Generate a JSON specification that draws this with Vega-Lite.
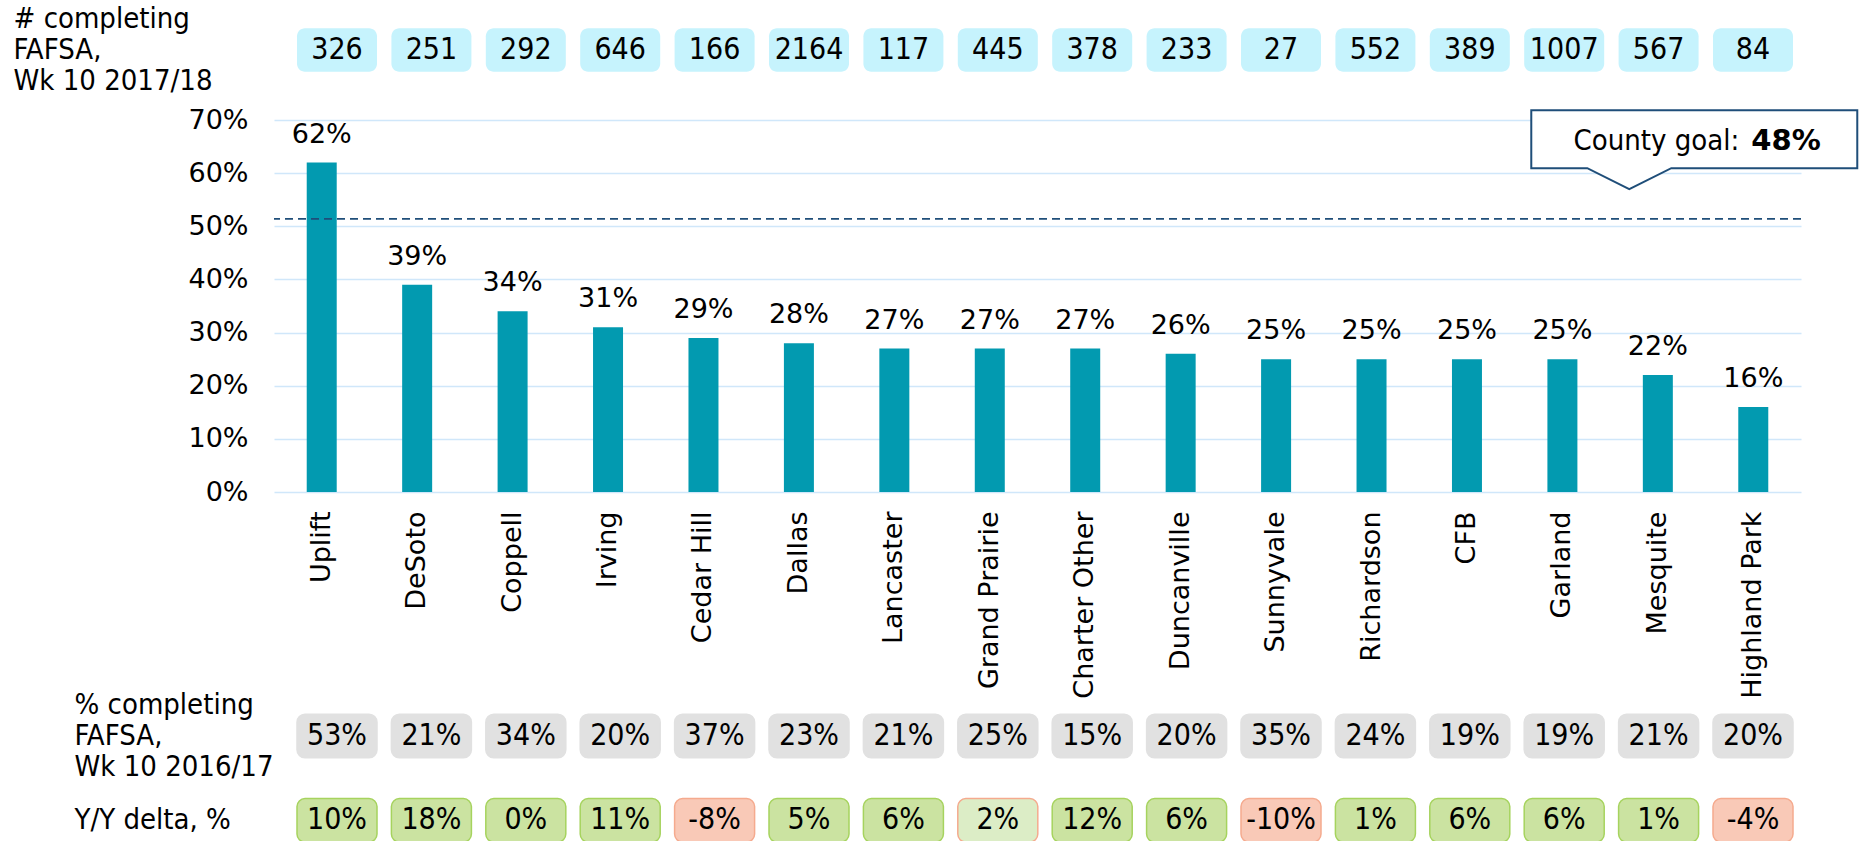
{
  "$schema": "https://vega.github.io/schema/vega-lite/v6.json",
  "background": "white",
  "padding": {"left": 13, "top": 0, "right": 0, "bottom": 0},
  "bounds": "flush",
  "spacing": 0,
  "config": {
    "view": {"stroke": null},
    "font": "DejaVu Sans",
    "locale": {"number": {"decimal": ".", "thousands": ",", "grouping": [3], "currency": ["$", ""], "minus": "-"}}
  },
  "datasets": {
    "d": [
      {"district": "Uplift", "pct": 0.62, "n1718": 326, "prev": 0.53, "delta": 0.10},
      {"district": "DeSoto", "pct": 0.39, "n1718": 251, "prev": 0.21, "delta": 0.18},
      {"district": "Coppell", "pct": 0.34, "n1718": 292, "prev": 0.34, "delta": 0.00},
      {"district": "Irving", "pct": 0.31, "n1718": 646, "prev": 0.20, "delta": 0.11},
      {"district": "Cedar Hill", "pct": 0.29, "n1718": 166, "prev": 0.37, "delta": -0.08},
      {"district": "Dallas", "pct": 0.28, "n1718": 2164, "prev": 0.23, "delta": 0.05},
      {"district": "Lancaster", "pct": 0.27, "n1718": 117, "prev": 0.21, "delta": 0.06},
      {"district": "Grand Prairie", "pct": 0.27, "n1718": 445, "prev": 0.25, "delta": 0.02},
      {"district": "Charter Other", "pct": 0.27, "n1718": 378, "prev": 0.15, "delta": 0.12},
      {"district": "Duncanville", "pct": 0.26, "n1718": 233, "prev": 0.20, "delta": 0.06},
      {"district": "Sunnyvale", "pct": 0.25, "n1718": 27, "prev": 0.35, "delta": -0.10},
      {"district": "Richardson", "pct": 0.25, "n1718": 552, "prev": 0.24, "delta": 0.01},
      {"district": "CFB", "pct": 0.25, "n1718": 389, "prev": 0.19, "delta": 0.06},
      {"district": "Garland", "pct": 0.25, "n1718": 1007, "prev": 0.19, "delta": 0.06},
      {"district": "Mesquite", "pct": 0.22, "n1718": 567, "prev": 0.21, "delta": 0.01},
      {"district": "Highland Park", "pct": 0.16, "n1718": 84, "prev": 0.20, "delta": -0.04}
    ]
  },
  "vconcat": [
    {
      "width": 1527,
      "height": 120,
      "data": {"name": "d"},
      "transform": [{"fold": ["n1718"], "as": ["key", "value"]}],
      "encoding": {
        "x": {"field": "district", "type": "nominal", "sort": null,
              "scale": {"paddingInner": 0.1525, "paddingOuter": 0.1642, "align": 0.742}, "axis": null},
        "y": {"field": "key", "type": "nominal",
              "scale": {"paddingInner": 0, "paddingOuter": 0.8825, "align": 0.3695},
              "axis": {"title": null, "domain": false, "ticks": false, "grid": false,
                       "labelAlign": "left", "labelBaseline": "middle", "labelPadding": 261,
                       "labelOffset": -31,
                       "labelFont": "DejaVu Sans Condensed", "labelFontSize": 29, "labelLineHeight": 31,
                       "labelLimit": 500, "labelColor": "#000",
                       "labelExpr": "['# completing', 'FAFSA,', 'Wk 10 2017/18']"}}
      },
      "layer": [
        {"mark": {"type": "rect", "fill": "#C6F3FD", "cornerRadius": 8}},
        {"mark": {"type": "text", "font": "DejaVu Sans Condensed", "fontSize": 30, "baseline": "middle", "color": "#000"},
         "encoding": {"text": {"field": "value", "type": "quantitative", "format": "d"}}}
      ]
    },
    {
      "width": 1527,
      "height": 372,
      "data": {"name": "d"},
      "encoding": {
        "x": {"field": "district", "type": "nominal", "sort": null,
              "scale": {"paddingInner": 0.6857, "paddingOuter": 0.3429},
              "axis": {"title": null, "labelAngle": 270, "labelPadding": 19, "labelFontSize": 27,
                       "labelColor": "#000", "domain": false, "ticks": false, "labelLimit": 400}}
      },
      "layer": [
        {"mark": {"type": "bar", "color": "#029AB0"},
         "encoding": {"y": {"field": "pct", "type": "quantitative",
                            "scale": {"domain": [0, 0.7], "nice": false},
                            "axis": {"title": null, "values": [0, 0.1, 0.2, 0.3, 0.4, 0.5, 0.6, 0.7],
                                     "format": ".0%", "labelFontSize": 27, "labelPadding": 26,
                                     "labelColor": "#000", "domain": false, "ticks": false,
                                     "gridColor": "#D0E7FA", "gridWidth": 1.6}}}},
        {"mark": {"type": "text", "baseline": "alphabetic", "dy": -20, "fontSize": 27, "color": "#000"},
         "encoding": {"y": {"field": "pct", "type": "quantitative"},
                      "text": {"field": "pct", "type": "quantitative", "format": ".0%"}}},
        {"data": {"values": [{}]},
         "mark": {"type": "rule", "color": "#1F4E79", "strokeWidth": 1.6, "strokeDash": [8, 5]},
         "encoding": {"y": {"datum": 0.514}, "x": null}},
        {"transform": [{"filter": "datum.district === 'Highland Park'"}],
         "mark": {"type": "point", "shape": "M -222 -63 L 104 -63 L 104 -5 L -82 -5 L -124 16 L -166 -5 L -222 -5 Z",
                  "size": 4, "filled": true, "fill": "white", "stroke": "#1F4E79", "strokeWidth": 2, "opacity": 1},
         "encoding": {"y": {"datum": 0.6}}},
        {"transform": [{"filter": "datum.district === 'Highland Park'"}],
         "mark": {"type": "text", "align": "right", "baseline": "alphabetic", "dx": -14, "dy": -23,
                  "font": "DejaVu Sans Condensed", "fontSize": 29, "color": "#000", "text": "County goal:"},
         "encoding": {"y": {"datum": 0.6}}},
        {"transform": [{"filter": "datum.district === 'Highland Park'"}],
         "mark": {"type": "text", "align": "left", "baseline": "alphabetic", "dx": -2, "dy": -23,
                  "fontSize": 29, "fontWeight": "bold", "color": "#000", "text": "48%"},
         "encoding": {"y": {"datum": 0.6}}}
      ]
    },
    {
      "width": 1527,
      "height": 350,
      "data": {"name": "d"},
      "transform": [{"fold": ["prev", "delta"], "as": ["key", "value"]}],
      "encoding": {
        "x": {"field": "district", "type": "nominal", "sort": null,
              "scale": {"paddingInner": 0.1525, "paddingOuter": 0.1642, "align": 0.742}, "axis": null},
        "y": {"field": "key", "type": "nominal",
              "scale": {"domain": ["blank", "prev", "delta"], "paddingInner": 0.4852, "paddingOuter": 0.8185, "align": 1},
              "axis": {"title": null, "domain": false, "ticks": false, "grid": false,
                       "labelAlign": "left", "labelBaseline": "middle", "labelPadding": 200,
                       "labelOffset": -31,
                       "labelFont": "DejaVu Sans Condensed", "labelFontSize": 29, "labelLineHeight": 31,
                       "labelLimit": 500, "labelColor": "#000",
                       "labelExpr": "datum.value === 'prev' ? ['% completing', 'FAFSA,', 'Wk 10 2016/17'] : datum.value === 'delta' ? ['', 'Y/Y delta, %'] : ''"}}
      },
      "layer": [
        {"mark": {"type": "rect", "cornerRadius": 8, "strokeWidth": 1.5},
         "encoding": {
           "fill": {"condition": [{"test": "datum.key === 'prev'", "value": "#E1E1E1"},
                                  {"test": "datum.value < 0", "value": "#F9C9B7"},
                                  {"test": "datum.district === 'Grand Prairie'", "value": "#DCEDC6"}], "value": "#CBE3A1"},
           "stroke": {"condition": [{"test": "datum.key === 'prev'", "value": "#E1E1E1"},
                                    {"test": "datum.value < 0 || datum.district === 'Grand Prairie'", "value": "#F5AA8E"}], "value": "#A6D35E"}
         }},
        {"mark": {"type": "text", "font": "DejaVu Sans Condensed", "fontSize": 30, "baseline": "middle", "color": "#000"},
         "encoding": {"text": {"field": "value", "type": "quantitative", "format": ".0%"}}}
      ]
    }
  ]
}
